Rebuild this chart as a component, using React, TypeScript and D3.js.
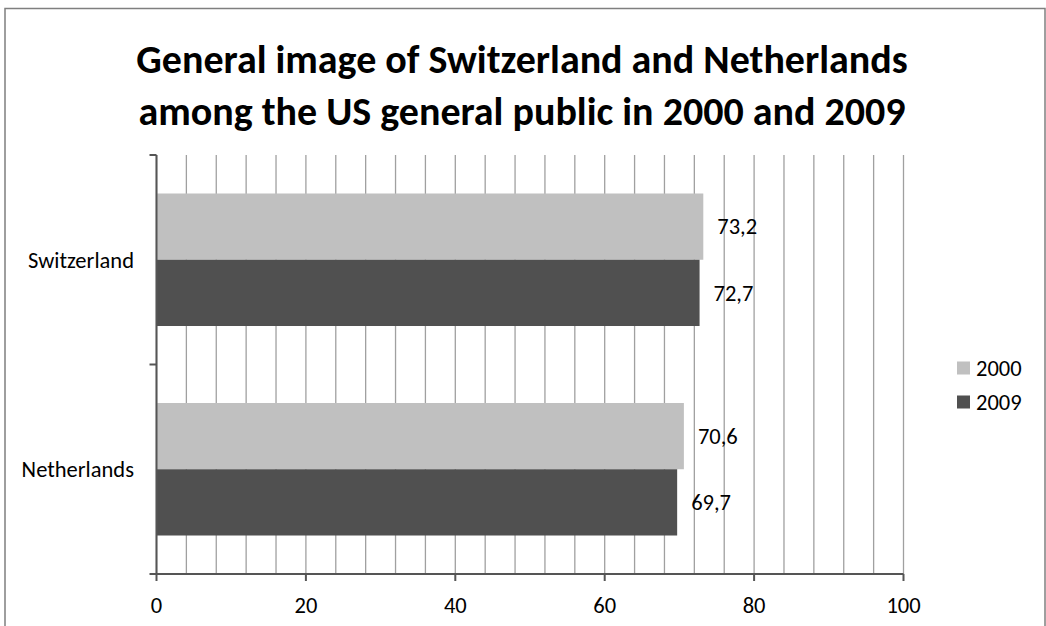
import React from "react";
import * as d3 from "d3";

const titleLines = [
  "General image of Switzerland and Netherlands",
  "among the US general public in 2000 and 2009",
];
const categories = ["Switzerland", "Netherlands"];
const seriesNames = ["2000", "2009"];
const values2000 = [73.2, 70.6];
const values2009 = [72.7, 69.7];
const seriesColors = ["#c0c0c0", "#505050"];
const xTicks = [0, 20, 40, 60, 80, 100];
const gridStep = 4;

const W = 1046;
const H = 626;
const FONT = "Carlito, Calibri, Lato, sans-serif";
const FS = 22.5;

export default function App() {
  const left = 156.5;
  const right = 903.5;
  const top = 155;
  const bottom = 574;

  const x = d3.scaleLinear().domain([0, 100]).range([left, right]);
  const y = d3
    .scaleBand<string>()
    .domain(categories)
    .range([top, bottom])
    .paddingInner(0.3675)
    .paddingOuter(0.18375);
  const ySub = d3
    .scaleBand<string>()
    .domain(seriesNames)
    .range([0, y.bandwidth()]);

  const series = [values2000, values2009];
  const gridVals = d3.range(0, 100 + gridStep / 2, gridStep);
  const step = y.step();
  const catTicks = d3.range(categories.length + 1).map((i) => top + i * step);
  const fmt = (v: number) => v.toFixed(1).replace(".", ",");

  return (
    <svg
      width={W}
      height={H}
      style={{ position: "absolute", left: 0, top: 0, background: "#fff" }}
      fontFamily={FONT}
    >
      <rect x={5} y={8.5} width={1040} height={700} fill="#fff" stroke="#7f7f7f" strokeWidth={1.5} />
      {titleLines.map((t, i) => (
        <text
          key={i}
          x={522}
          y={73 + i * 52}
          textAnchor="middle"
          fontSize={40}
          fontWeight="bold"
          fill="#000"
        >
          {t}
        </text>
      ))}
      {gridVals.map((v) => (
        <line key={v} x1={x(v)} x2={x(v)} y1={top} y2={bottom} stroke="#a0a0a0" strokeWidth={1.3} />
      ))}
      {categories.map((c, ci) =>
        series.map((vals, si) => (
          <rect
            key={c + si}
            x={x(0)}
            y={(y(c) as number) + (ySub(seriesNames[si]) as number)}
            width={x(vals[ci]) - x(0)}
            height={ySub.bandwidth()}
            fill={seriesColors[si]}
          />
        ))
      )}
      {categories.map((c, ci) =>
        series.map((vals, si) => (
          <text
            key={"l" + c + si}
            x={x(vals[ci]) + 14}
            y={(y(c) as number) + (ySub(seriesNames[si]) as number) + ySub.bandwidth() / 2}
            dy="0.35em"
            fontSize={FS}
            fill="#000"
          >
            {fmt(vals[ci])}
          </text>
        ))
      )}
      <line x1={left} x2={left} y1={top} y2={bottom} stroke="#555" strokeWidth={2} />
      {catTicks.map((t, i) => (
        <line key={i} x1={left - 7} x2={left} y1={t} y2={t} stroke="#555" strokeWidth={2} />
      ))}
      <line x1={left} x2={right} y1={bottom} y2={bottom} stroke="#555" strokeWidth={2} />
      {xTicks.map((t) => (
        <g key={t}>
          <line x1={x(t)} x2={x(t)} y1={bottom} y2={bottom + 7} stroke="#555" strokeWidth={2} />
          <text x={x(t)} y={bottom + 31} dy="0.35em" textAnchor="middle" fontSize={FS} fill="#000">
            {t}
          </text>
        </g>
      ))}
      {categories.map((c) => (
        <text
          key={c}
          x={134}
          y={(y(c) as number) + y.bandwidth() / 2}
          dy="0.35em"
          textAnchor="end"
          fontSize={FS}
          fill="#000"
        >
          {c}
        </text>
      ))}
      {seriesNames.map((s, i) => (
        <g key={s} transform={`translate(957, ${368 + i * 34})`}>
          <rect x={0} y={-6.5} width={13} height={13} fill={seriesColors[i]} />
          <text x={19} y={0} dy="0.35em" fontSize={FS} fill="#000">
            {s}
          </text>
        </g>
      ))}
    </svg>
  );
}
